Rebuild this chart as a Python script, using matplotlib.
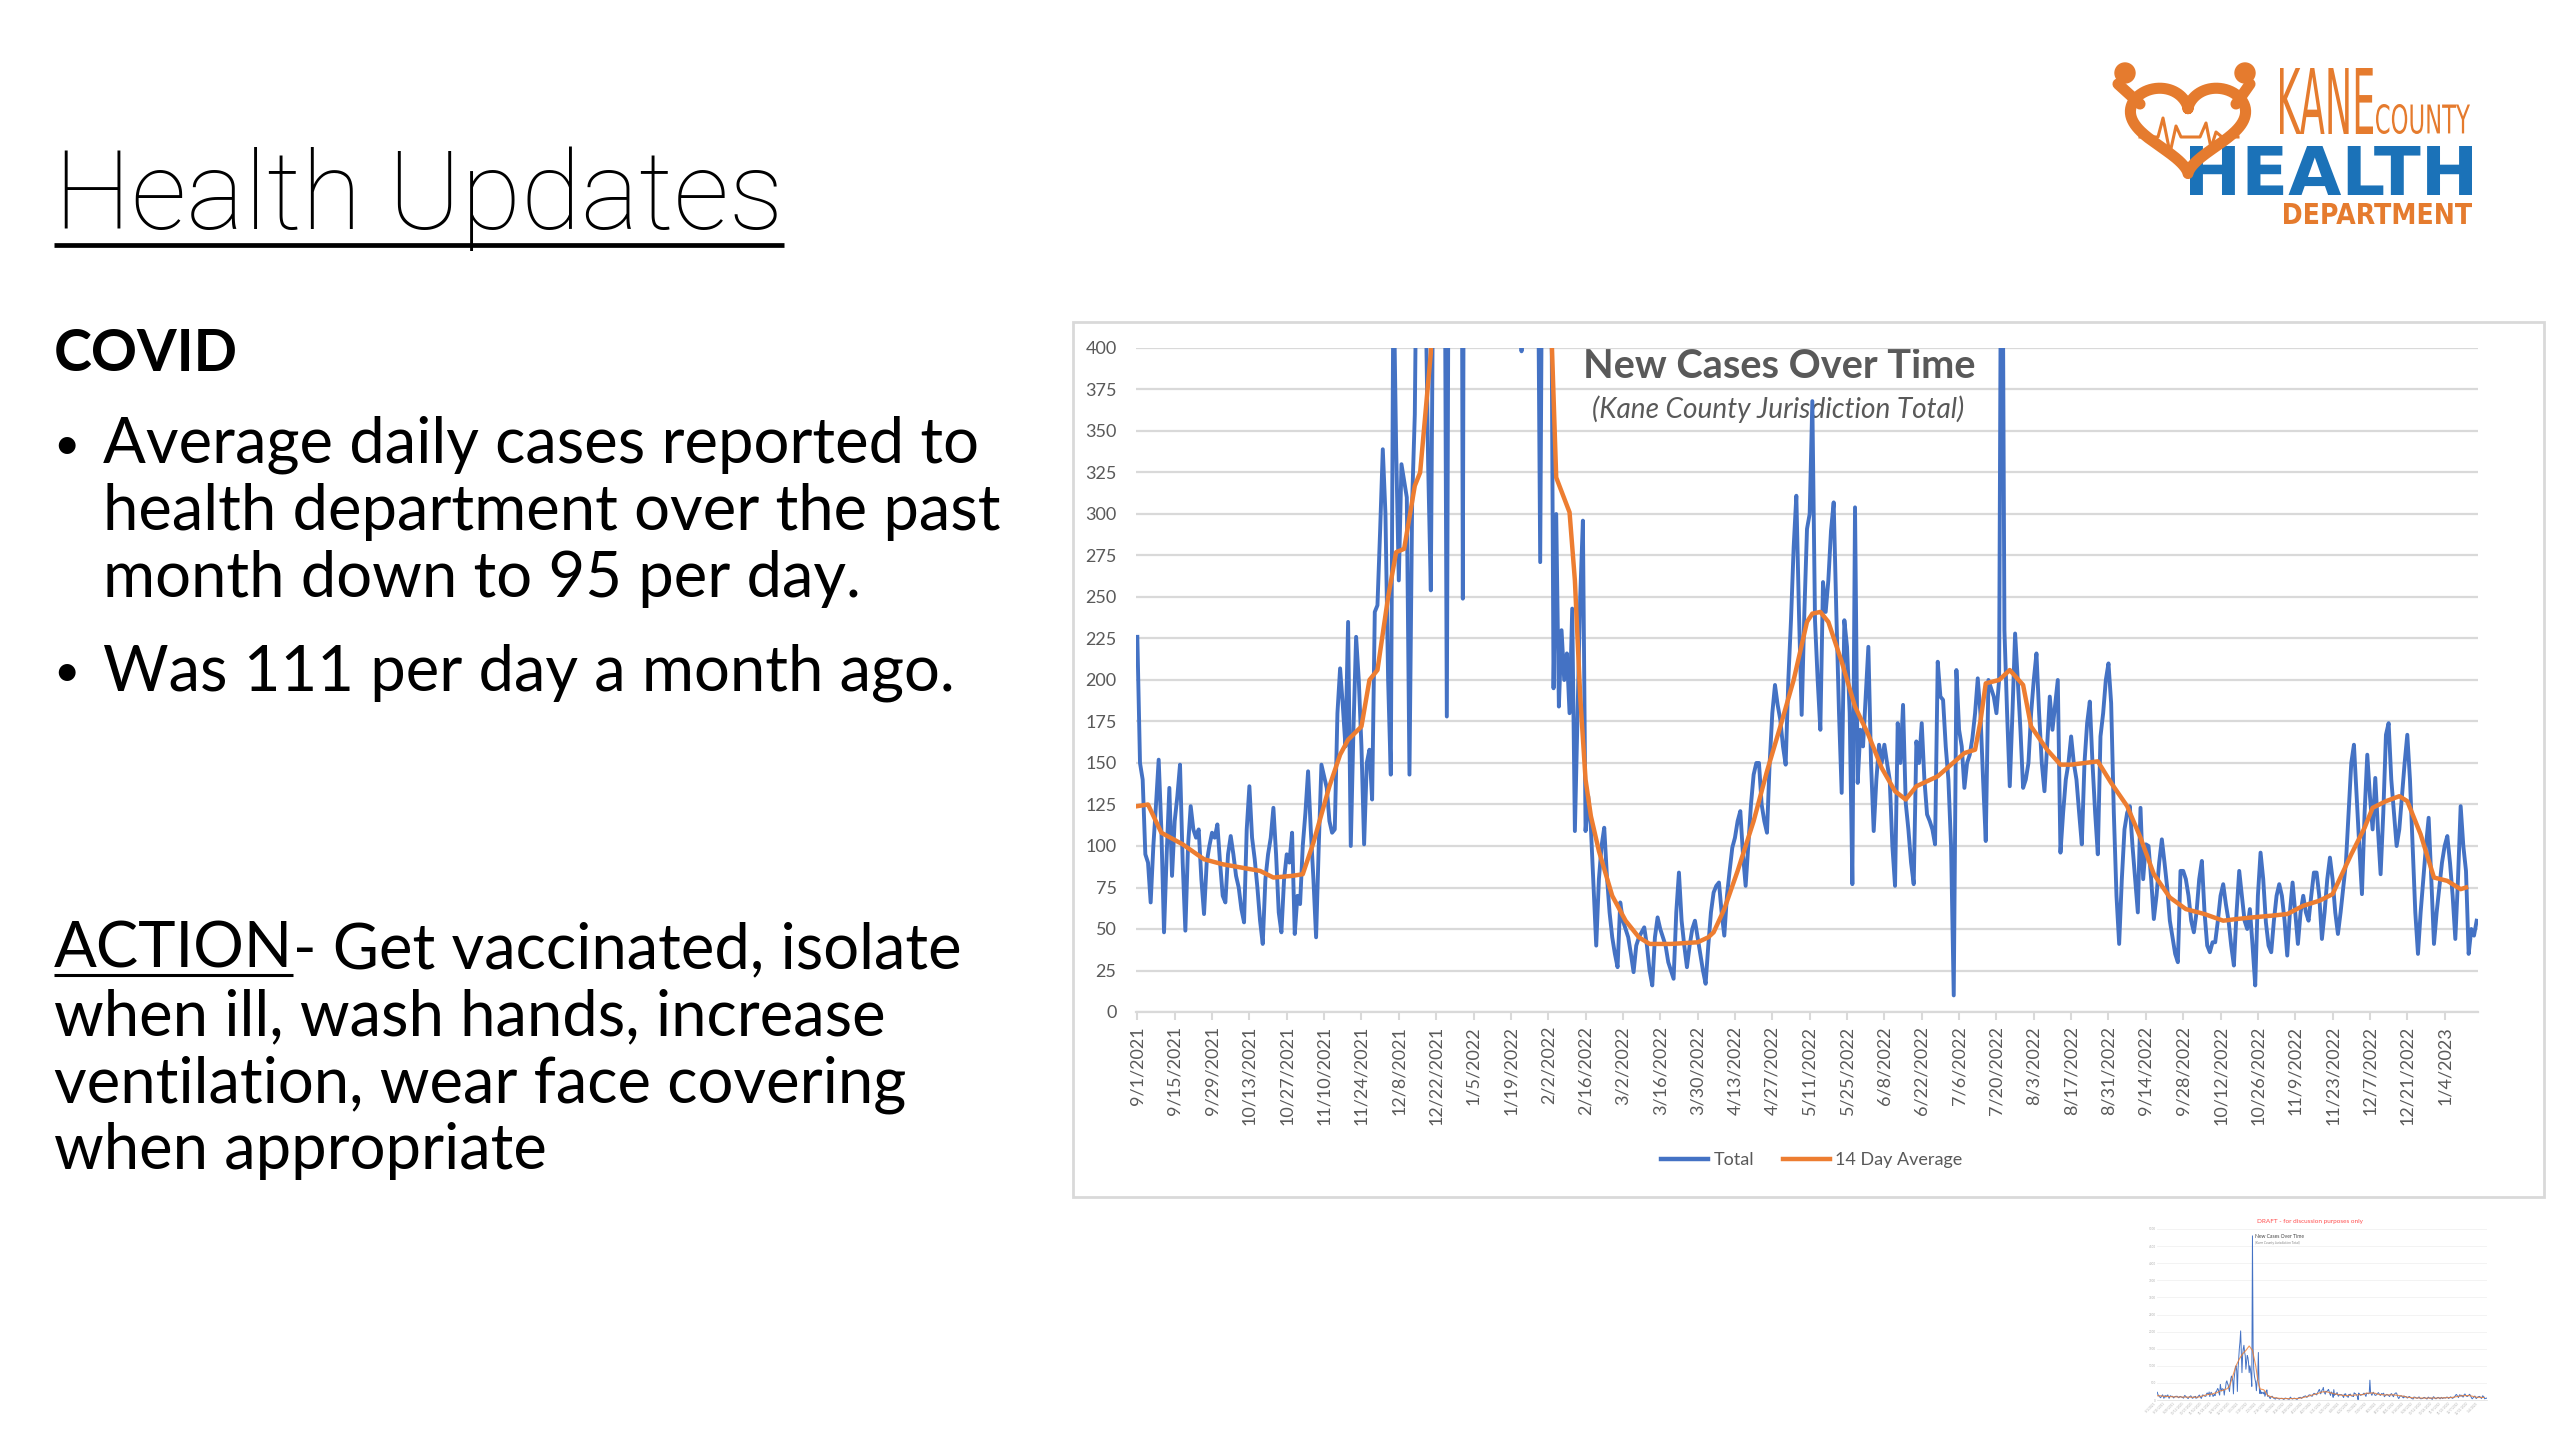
import numpy as np
import pandas as pd
import matplotlib
matplotlib.use("Agg")
import matplotlib.pyplot as plt
import matplotlib.dates as mdates
import matplotlib.transforms as mtransforms
from matplotlib.patches import Rectangle, Circle, PathPatch
from matplotlib.textpath import TextPath
from matplotlib.font_manager import FontProperties
from matplotlib.lines import Line2D

plt.rcParams['font.family'] = ['Lato', 'DejaVu Sans']

# ---------------- data ----------------
start_date = "2021-09-01"
# daily new cases (Total), 9/1/2021 .. 1/16/2023
total = [
    226,150,140,95,90,66,100,125,152,110,48,95,135,82,
    115,130,149,90,49,100,124,110,105,110,80,59,90,100,
    108,105,113,90,70,66,95,106,95,82,75,62,54,110,
    136,105,92,75,55,41,80,95,105,123,95,60,48,80,
    95,90,108,47,70,65,100,120,145,110,80,45,100,149,
    142,135,115,108,110,180,207,185,160,235,100,170,226,200,
    160,101,150,158,128,241,245,290,339,300,200,143,450,340,
    260,330,320,310,143,307,360,520,560,480,440,330,254,480,
    620,700,650,560,178,620,800,960,1000,850,249,900,1200,1500,
    1700,2020,1400,800,1300,1500,1600,1400,1300,900,1100,1300,1250,1100,
    800,1000,900,700,398,4800,1500,900,700,600,500,271,550,600,
    1390,500,195,300,184,230,200,216,180,243,109,180,250,296,
    109,130,111,75,40,80,100,111,82,60,45,35,27,66,
    55,50,45,35,24,40,45,48,51,40,25,16,45,57,
    50,45,40,30,25,20,60,84,55,40,27,40,50,55,
    45,35,25,17,40,60,72,76,78,60,46,70,85,99,
    105,115,121,95,76,100,125,143,150,150,125,115,108,150,
    180,197,185,176,160,149,200,236,280,311,240,179,240,291,
    300,368,236,200,170,259,241,260,290,307,240,180,132,236,
    220,180,77,304,138,170,160,190,220,150,109,140,161,150,
    161,150,140,100,76,174,150,185,126,110,90,77,163,150,
    174,140,119,115,110,101,211,190,188,160,140,100,10,206,
    170,160,135,150,155,165,180,201,180,140,103,200,195,190,
    180,200,580,230,180,136,180,228,200,170,135,140,150,180,
    200,216,180,150,133,160,190,170,185,200,96,120,140,150,
    166,150,140,120,101,150,174,187,150,120,95,166,180,200,
    210,186,120,70,41,80,110,120,124,100,80,60,123,80,
    101,100,80,56,70,90,104,90,75,55,45,35,30,85,
    85,80,70,55,48,60,80,91,60,40,36,42,42,55,
    70,77,65,55,40,28,60,85,70,55,50,62,40,16,
    70,96,80,54,40,36,55,70,77,70,55,34,60,78,
    60,41,60,70,60,55,70,84,84,70,44,60,80,93,
    80,60,47,60,75,90,120,150,161,130,100,71,120,155,
    130,110,141,110,83,120,167,174,140,120,100,110,130,150,
    167,140,100,60,35,60,80,100,117,80,41,60,75,90,
    100,106,90,70,44,80,124,100,85,35,50,46,55,
]

# 14 day average, read at these day offsets from the start date
avg_day = [0,4,9,17,25,32,39,46,51,58,
           62,66,72,76,79,84,87,90,94,97,
           100,104,106,110,115,120,125,130,135,140,
           145,150,153,155,157,162,164,166,168,170,
           173,178,183,188,192,200,210,214,216,220,
           225,231,236,241,246,251,253,256,259,264,
           269,274,279,284,288,292,300,305,310,314,
           316,318,323,327,332,335,341,346,350,360,
           365,371,376,381,387,393,400,407,412,418,
           425,431,437,443,448,455,460,463,468,473,
           476,481,486,491,496,498]
avg_val = [124,125,108,101,92,89,87,85,81,82,
           83,102,136,155,164,172,200,206,250,277,
           279,317,325,397,700,1000,1200,1350,1450,1580,
           1450,1000,600,420,322,301,260,190,140,118,
           97,70,55,45,41,41,42,45,48,62,
           85,115,145,172,200,235,240,241,235,211,
           184,167,147,133,128,136,142,149,156,158,
           175,198,200,206,197,172,158,149,149,151,
           138,124,105,83,69,62,59,55,56,57,
           58,59,64,67,71,95,111,123,127,130,
           127,107,81,79,74,75]

tick_labels = ["9/1/2021","9/15/2021","9/29/2021","10/13/2021","10/27/2021",
               "11/10/2021","11/24/2021","12/8/2021","12/22/2021","1/5/2022",
               "1/19/2022","2/2/2022","2/16/2022","3/2/2022","3/16/2022",
               "3/30/2022","4/13/2022","4/27/2022","5/11/2022","5/25/2022",
               "6/8/2022","6/22/2022","7/6/2022","7/20/2022","8/3/2022",
               "8/17/2022","8/31/2022","9/14/2022","9/28/2022","10/12/2022",
               "10/26/2022","11/9/2022","11/23/2022","12/7/2022","12/21/2022",
               "1/4/2023"]
y_ticks = list(range(0, 401, 25))
thumb_y_ticks = list(range(0, 5001, 500))

series_names = ["Total", "14 Day Average"]
title_text = "Health Updates"
covid_text = "COVID"
bullet1_lines = ["Average daily cases reported to",
                 "health department over the past",
                 "month down to 95 per day."]
bullet2_line = "Was 111 per day a month ago."
action_word = "ACTION"
action_lines = ["- Get vaccinated, isolate",
                "when ill, wash hands, increase",
                "ventilation, wear face covering",
                "when appropriate"]

# ---------------- figure ----------------
W, H = 2560, 1440
fig = plt.figure(figsize=(W / 100, H / 100), dpi=100)
fig.patch.set_facecolor("white")
R = fig.canvas.get_renderer()

ov = fig.add_axes([0, 0, 1, 1], zorder=0)
ov.set_xlim(0, W)
ov.set_ylim(H, 0)
ov.axis("off")


def fit_width(t, w):
    bb = t.get_window_extent(renderer=R)
    t.set_fontsize(t.get_fontsize() * w / bb.width)
    return t


def box_text(s, x0, y0, x1, y1, color, fp):
    tp = TextPath((0, 0), s, size=100, prop=fp)
    ext = tp.get_extents()
    sx = (x1 - x0) / ext.width
    sy = (y1 - y0) / ext.height
    tr = (mtransforms.Affine2D().translate(-ext.x0, -ext.y0)
          .scale(sx, -sy).translate(x0, y1))
    ov.add_patch(PathPatch(tr.transform_path(tp), fc=color, ec="none", lw=0))


# ---------------- left text ----------------
t = ov.text(54, 229, title_text, fontsize=78, weight="light", color="black",
            va="baseline", ha="left", family=["Roboto", "Lato", "DejaVu Sans"])
fit_width(t, 730)
ov.plot([54, 784], [245, 245], color="black", lw=3.4, solid_capstyle="butt")

t = ov.text(54, 371, covid_text, fontsize=48, weight="bold", color="black",
            va="baseline", ha="left")
fit_width(t, 184)

t1 = ov.text(103, 463, bullet1_lines[0], fontsize=44, color="black",
             va="baseline", ha="left")
fit_width(t1, 877)
body_fs = t1.get_fontsize()
for i, ln in enumerate(bullet1_lines[1:]):
    ov.text(103, 463 + 67 * (i + 1), ln, fontsize=body_fs, color="black",
            va="baseline", ha="left")
ov.text(103, 690, bullet2_line, fontsize=body_fs, color="black",
        va="baseline", ha="left")
for yb in (463, 690):
    ov.text(66, yb - 4, "\u2022", fontsize=body_fs * 0.72, color="black",
            va="baseline", ha="center")

ta = ov.text(54, 968, action_word, fontsize=body_fs, color="black",
             va="baseline", ha="left")
wa = ta.get_window_extent(renderer=R).width
ov.plot([54, 54 + wa], [975, 975], color="black", lw=2.2, solid_capstyle="butt")
ov.text(54 + wa, 968, action_lines[0], fontsize=body_fs, color="black",
        va="baseline", ha="left")
for i, ln in enumerate(action_lines[1:]):
    ov.text(54, 968 + 67 * (i + 1), ln, fontsize=body_fs, color="black",
            va="baseline", ha="left")

# ---------------- logo ----------------
orange_logo = "#E57B2E"
blue_logo = "#1B72B8"
fp_reg = FontProperties(family="DejaVu Sans")
fp_bold = FontProperties(family="DejaVu Sans", weight="bold")
box_text("KANE", 2280, 68, 2373, 134, orange_logo, fp_reg)
box_text("COUNTY", 2376, 104, 2470, 134, orange_logo, fp_reg)
box_text("HEALTH", 2190, 146, 2472, 195, blue_logo, fp_bold)
box_text("DEPARTMENT", 2284, 203, 2472, 224, orange_logo, fp_bold)

tt = np.linspace(0, 2 * np.pi, 300)
hx = 16 * np.sin(tt) ** 3
hy = 13 * np.cos(tt) - 5 * np.cos(2 * tt) - 2 * np.cos(3 * tt) - np.cos(4 * tt)
ov.plot(2188 + hx * 3.6, 88 + (12 - hy) * 2.95, color=orange_logo, lw=8,
        solid_capstyle="round")
ov.plot([2118, 2140], [84, 104], color=orange_logo, lw=8, solid_capstyle="round")
ov.plot([2250, 2236], [84, 104], color=orange_logo, lw=8, solid_capstyle="round")
ov.add_patch(Circle((2125, 73), 10, color=orange_logo))
ov.add_patch(Circle((2245, 73), 10, color=orange_logo))
ov.plot([2140, 2158, 2163, 2170, 2176, 2181, 2200, 2206, 2211, 2216, 2222, 2238],
        [137, 137, 118, 153, 126, 137, 137, 123, 148, 132, 137, 137],
        color=orange_logo, lw=2.2)

# ---------------- chart box ----------------
ov.add_patch(Rectangle((1073, 322), 1471, 875, fc="white", ec="#d9d9d9", lw=2.0))

gray_txt = "#595959"
t = ov.text(1779, 378, "New Cases Over Time", fontsize=27, weight="bold",
            color=gray_txt, ha="center", va="baseline")
fit_width(t, 392)
t = ov.text(1778, 418, "(Kane County Jurisdiction Total)", fontsize=17,
            style="italic", color=gray_txt, ha="center", va="baseline")
fit_width(t, 373)

# ---------------- main chart ----------------
start = pd.Timestamp(start_date)
dates = pd.date_range(start, periods=len(total), freq="D")
avg_dates = start + pd.to_timedelta(avg_day, unit="D")
tick_pos = pd.to_datetime(tick_labels, format="%m/%d/%Y")

blue = "#4472C4"
orange = "#ED7D31"

ax = fig.add_axes([1136 / W, 1 - 1012 / H, 1342 / W, 664 / H], zorder=2)
ax.set_facecolor("none")
ax.plot(dates, total, color=blue, lw=2.8, solid_joinstyle="round", zorder=3)
ax.plot(avg_dates, avg_val, color=orange, lw=3.2, solid_joinstyle="round", zorder=4)
x0 = mdates.date2num(dates[0]) - 0.5
x1 = mdates.date2num(dates[-1]) + 0.5
ax.set_xlim(x0, x1)
ax.set_ylim(0, 400)
ax.set_yticks(y_ticks)
ax.set_yticklabels([str(v) for v in y_ticks])
ax.set_xticks(tick_pos)
ax.set_xticklabels(tick_labels, rotation=90)
ax.minorticks_off()
ax.tick_params(axis="y", length=0, pad=14, labelsize=13, labelcolor=gray_txt)
ax.tick_params(axis="x", length=6, width=1.5, color="#d9d9d9", pad=4,
               labelsize=13, labelcolor=gray_txt, direction="out")
ax.yaxis.grid(True, color="#d9d9d9", lw=1.6)
ax.set_axisbelow(True)
for s in ("left", "right", "top"):
    ax.spines[s].set_visible(False)
ax.spines["bottom"].set_color("#d9d9d9")
ax.spines["bottom"].set_linewidth(1.6)

handles = [Line2D([], [], color=blue, lw=3.2), Line2D([], [], color=orange, lw=3.2)]
fig.legend(handles, series_names, loc="center", bbox_to_anchor=(1812 / W, 1 - 1160 / H),
           ncol=2, frameon=False, fontsize=13, labelcolor=gray_txt,
           handlelength=2.6, columnspacing=1.6, handletextpad=0.3)

# ---------------- thumbnail ----------------
ov.text(2310, 1221, "DRAFT - for discussion purposes only", fontsize=4.6,
        color="#ff4d4d", ha="center", va="center")
tax = fig.add_axes([2157 / W, 1 - 1400 / H, 330 / W, 171 / H], zorder=3)
tax.set_facecolor("none")
tax.plot(dates, total, color=blue, lw=0.7)
tax.plot(avg_dates, avg_val, color=orange, lw=0.8, alpha=0.8)
tax.set_xlim(x0, x1)
tax.set_ylim(0, 5000)
tax.set_yticks(thumb_y_ticks)
tax.set_yticklabels([str(v) for v in thumb_y_ticks])
tax.set_xticks(tick_pos)
tax.set_xticklabels(tick_labels, rotation=45, ha="right")
tax.tick_params(axis="both", length=0, pad=1, labelsize=2.2, labelcolor="#b0b0b0")
tax.yaxis.grid(True, color="#eeeeee", lw=0.5)
tax.set_axisbelow(True)
for s in ("left", "right", "top"):
    tax.spines[s].set_visible(False)
tax.spines["bottom"].set_color("#dddddd")
tax.spines["bottom"].set_linewidth(0.5)
ov.text(2255, 1236, "New Cases Over Time", fontsize=3.6, color="#444444",
        ha="left", va="center")
ov.text(2255, 1243, "(Kane County Jurisdiction Total)", fontsize=2.4,
        color="#888888", ha="left", va="center", style="italic")

fig.savefig("out.png", dpi=100, facecolor="white")
